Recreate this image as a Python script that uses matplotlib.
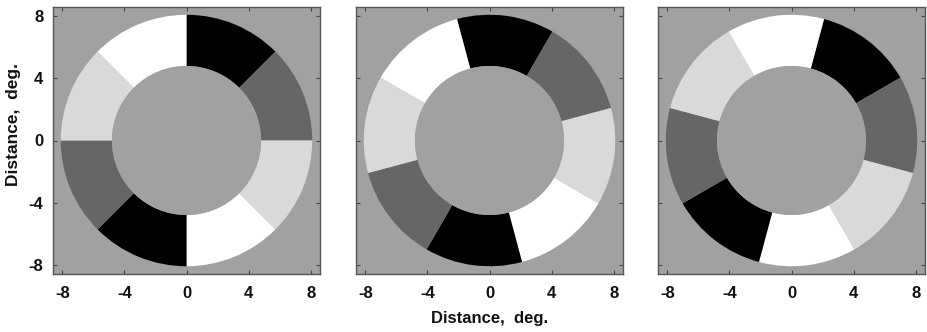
import matplotlib
matplotlib.use('Agg')
import matplotlib.pyplot as plt
from matplotlib.patches import Wedge, Circle

plt.rcParams['font.family'] = ['Liberation Sans', 'DejaVu Sans']

# grey levels of the 8 annulus sectors, clockwise from the start angle
sector_levels = [0.0, 0.4, 0.85, 1.0, 0.0, 0.4, 0.85, 1.0]
# rotation of the sector pattern in each panel (degrees, counter-clockwise)
panel_rotations = [0, 15, -15]
start_angle = 90
sector_span = 45
outer_radius = 8.1
inner_radius = 4.8
background_level = 0.63
ticks = [-8, -4, 0, 4, 8]
tick_labels = ['-8', '-4', '0', '4', '8']
axis_label = 'Distance,  deg.'
lim = 8.6

W, H = 927, 332
fig = plt.figure(figsize=(W / 100, H / 100), dpi=100)
lefts = [53, 356, 658]
size = 267
bottom = H - 274

axes = []
for i, rot in enumerate(panel_rotations):
    ax = fig.add_axes([lefts[i] / W, bottom / H, size / W, size / H])
    ax.set_facecolor(str(background_level))
    for k, level in enumerate(sector_levels):
        t2 = start_angle + rot - k * sector_span
        t1 = t2 - sector_span
        ax.add_patch(Wedge((0, 0), outer_radius, t1, t2,
                           width=outer_radius - inner_radius,
                           facecolor=str(level), edgecolor='none',
                           antialiased=True))
    ax.add_patch(Circle((0, 0), inner_radius, facecolor=str(background_level),
                        edgecolor='none'))
    ax.set_xlim(-lim, lim)
    ax.set_ylim(-lim, lim)
    ax.set_xticks(ticks)
    ax.set_xticklabels(tick_labels, fontweight='bold')
    ax.set_yticks(ticks)
    if i == 0:
        ax.set_yticklabels(tick_labels, fontweight='bold')
    else:
        ax.set_yticklabels([])
    ax.tick_params(direction='in', length=3, width=0.8, color='#444444',
                   top=True, right=True, labelsize=12, labelcolor='#111111')
    ax.tick_params(axis='x', pad=9)
    ax.tick_params(axis='y', pad=7)
    for sp in ax.spines.values():
        sp.set_color('#555555')
        sp.set_linewidth(1.0)
    axes.append(ax)

fig.text((lefts[1] + size / 2) / W, 1 - 318 / H, axis_label, ha='center',
         va='center', fontsize=12, fontweight='bold', color='#111111')
fig.text(14 / W, 1 - 125 / H, axis_label, ha='center', va='center',
         rotation=90, fontsize=12.5, fontweight='bold', color='#111111')

fig.savefig('out.png', dpi=100)
